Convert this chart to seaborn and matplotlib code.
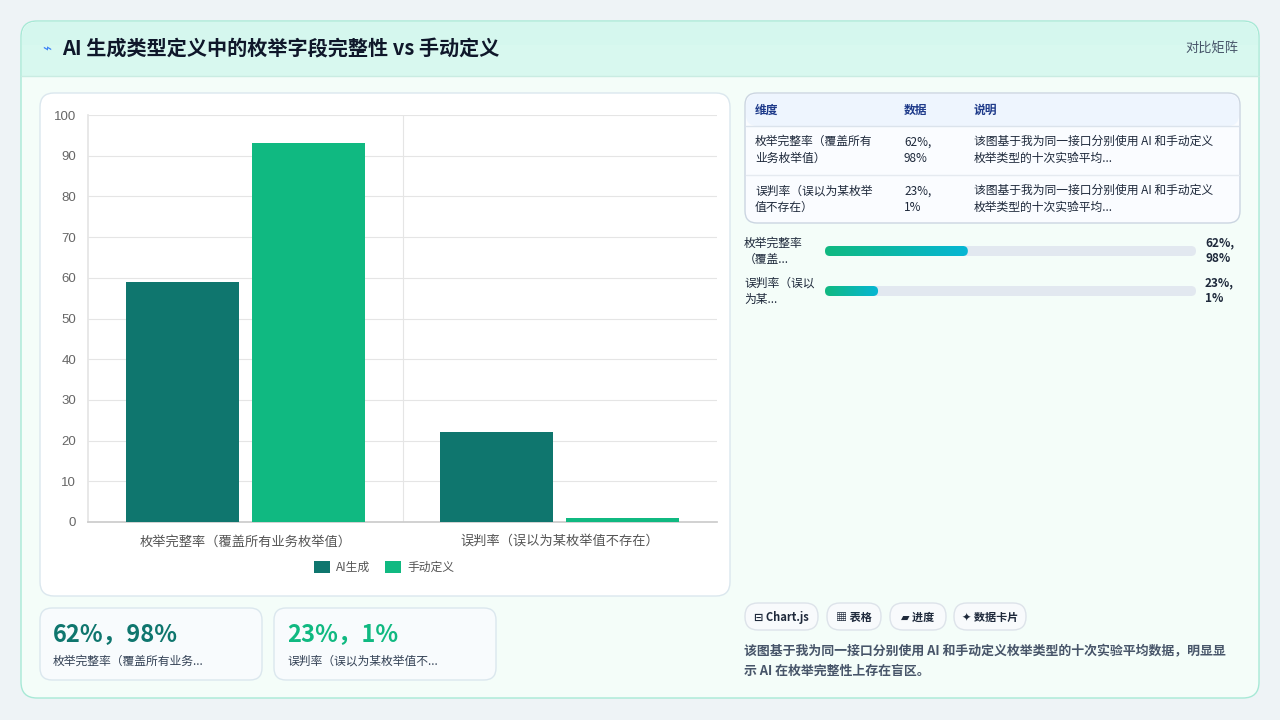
import matplotlib
matplotlib.use("Agg")
import matplotlib.pyplot as plt
import seaborn as sns
import pandas as pd
import numpy as np
from matplotlib.patches import FancyBboxPatch

sns.set_theme(style="white")
plt.rcParams['font.family'] = ['Noto Sans CJK SC', 'DejaVu Sans']

title = "AI 生成类型定义中的枚举字段完整性 vs 手动定义"
categories = ["枚举完整率（覆盖所有业务枚举值）", "误判率（误以为某枚举值不存在）"]
series_names = ["AI生成", "手动定义"]
ai_values = [59, 22]
manual_values = [93, 1]
colors = ["#0f766e", "#10b981"]
yticks = list(range(0, 101, 10))
table_rows = [("枚举完整率（覆盖所有\n业务枚举值）", "62%,\n98%"), ("误判率（误以为某枚举\n值不存在）", "23%,\n1%")]
table_note = "该图基于我为同一接口分别使用 AI 和手动定义\n枚举类型的十次实验平均..."
progress_labels = ["枚举完整率\n（覆盖...", "误判率（误以\n为某..."]
progress_values = ["62%,\n98%", "23%,\n1%"]
progress_fill = [0.385, 0.143]
kpi_values = ["62%，98%", "23%，1%"]
kpi_labels = ["枚举完整率（覆盖所有业务...", "误判率（误以为某枚举值不..."]
kpi_colors = ["#0f766e", "#10b981"]
tags = ["⊟ Chart.js", "▦ 表格", "▰ 进度", "✦ 数据卡片"]
summary = "该图基于我为同一接口分别使用 AI 和手动定义枚举类型的十次实验平均数据，明显显\n示 AI 在枚举完整性上存在盲区。"

fig = plt.figure(figsize=(12.8, 7.2), dpi=100)
fig.patch.set_facecolor("#eef3f6")
bg = fig.add_axes([0, 0, 1, 1])
bg.set_xlim(0, 1280); bg.set_ylim(720, 0); bg.axis("off")

def box(x, y, w, h, fc, ec, r=12, lw=1, z=1):
    bg.add_patch(FancyBboxPatch((x, y), w, h, boxstyle=f"round,pad=0,rounding_size={r}",
                                fc=fc, ec=ec, lw=lw, zorder=z))

box(21, 21, 1238, 677, "#f4fdf9", "#a7e9d6", r=16)
box(22, 22, 1236, 40, "#d5f7ee", "none", r=15, z=1.1)
bg.add_patch(plt.Rectangle((22, 45), 1236, 31, fc="#d8f8ef", ec="none", zorder=1.1))
bg.plot([21, 1259], [76, 76], color="#c9ece2", lw=1, zorder=1.2)
bg.text(42, 49, "⌁", color="#3b82f6", fontsize=11, va="center", zorder=3)
bg.text(62, 49, title, fontsize=14.5, fontweight="bold", color="#0f172a", va="center", zorder=3)
bg.text(1238, 49, "对比矩阵", fontsize=9.5, color="#475569", va="center", ha="right", zorder=3)

box(40, 93, 690, 503, "white", "#dbe7ee", r=14, z=2)

# table
box(745, 93, 495, 130, "#fafcff", "#cbd5e1", r=12, z=2)
box(746, 94, 493, 32, "#eef5fe", "none", r=11, z=2.1)
bg.plot([746, 1239], [126, 126], color="#dbe3ec", lw=1, zorder=2.2)
bg.plot([746, 1239], [175, 175], color="#e5eaf0", lw=1, zorder=2.2)
for x, t in zip([755, 904, 974], ["维度", "数据", "说明"]):
    bg.text(x, 110, t, fontsize=8.5, fontweight="bold", color="#1e3a8a", va="center", zorder=3)
for i, (a, b) in enumerate(table_rows):
    yc = 150 + i * 49
    bg.text(755, yc, a, fontsize=8.5, color="#1e293b", va="center", zorder=3, linespacing=1.35)
    bg.text(904, yc, b, fontsize=8.5, color="#1e293b", va="center", zorder=3, linespacing=1.35)
    bg.text(974, yc, table_note, fontsize=8.5, color="#1e293b", va="center", zorder=3, linespacing=1.35)

# progress bars
from matplotlib.colors import LinearSegmentedColormap
grad = LinearSegmentedColormap.from_list("g", ["#10b981", "#06b6d4"])
for i in range(2):
    yc = 251 + i * 40
    bg.text(744, yc, progress_labels[i], fontsize=8.5, color="#1e293b", va="center", zorder=3, linespacing=1.3)
    box(825, yc - 5, 371, 10, "#e2e8f0", "none", r=5, z=2)
    w = 371 * progress_fill[i]
    p = FancyBboxPatch((825, yc - 5), w, 10, boxstyle="round,pad=0,rounding_size=5", fc="none", ec="none")
    bg.add_patch(p)
    im = bg.imshow(np.linspace(0, 1, 100)[None, :], cmap=grad, extent=(825, 825 + w, yc + 5, yc - 5),
                   aspect="auto", zorder=2.5)
    im.set_clip_path(p)
    bg.text(1205, yc, progress_values[i], fontsize=8.5, fontweight="bold", color="#1e293b", va="center", zorder=3, linespacing=1.3)
bg.set_xlim(0, 1280); bg.set_ylim(720, 0)

# KPI cards
for i in range(2):
    x = 40 + i * 234
    box(x, 608, 222, 72, "#f8fbfd", "#dbe7ee", r=12, z=2)
    bg.text(x + 13, 634, kpi_values[i], fontsize=17, fontweight="bold", color=kpi_colors[i], va="center", zorder=3)
    bg.text(x + 13, 661, kpi_labels[i], fontsize=8.5, color="#334155", va="center", zorder=3)

# tags
tx = [745, 827, 890, 954]
tw = [73, 54, 56, 72]
for x, w, t in zip(tx, tw, tags):
    box(x, 603, w, 27, "#f8fafc", "#dde3ea", r=13, z=2)
    bg.text(x + w / 2, 617, t, fontsize=8, fontweight="bold", color="#1e293b", ha="center", va="center", zorder=3)
bg.text(744, 661, summary, fontsize=9.3, fontweight="bold", color="#475569", va="center", zorder=3, linespacing=1.5)

# bar chart
ax = fig.add_axes([88 / 1280, 1 - 522 / 720, 629 / 1280, 407 / 720])
df = pd.DataFrame({"cat": categories * 2, "series": [series_names[0]] * 2 + [series_names[1]] * 2,
                   "val": ai_values + manual_values})
sns.barplot(data=df, x="cat", y="val", hue="series", palette=colors, ax=ax, width=0.8, gap=0.1,
            saturation=1, legend=False, zorder=3)
for p in ax.patches:
    p.set_edgecolor("none")
ax.set_ylim(0, 100)
ax.set_yticks(yticks)
ax.tick_params(axis="y", labelsize=9.5, colors="#666666", length=5, color="#e5e5e5")
ax.tick_params(axis="x", labelsize=9.5, colors="#555555", length=0, pad=10)
ax.set_xlabel(""); ax.set_ylabel("")
ax.set_xlim(-0.5, 1.5)
for y in yticks:
    ax.axhline(y, color="#e5e5e5", lw=0.8, zorder=0)
ax.axvline(0.5, color="#e5e5e5", lw=0.8, zorder=0)
for s in ["top", "right"]:
    ax.spines[s].set_visible(False)
ax.spines["left"].set_color("#e5e5e5"); ax.spines["bottom"].set_color("#cccccc")
for l in ax.get_yticklabels():
    l.set_family(["Liberation Sans", "DejaVu Sans"])

# legend
for x, c, n in zip([314, 385], colors, series_names):
    bg.add_patch(plt.Rectangle((x, 561), 16, 12, fc=c, ec="none", zorder=3))
    bg.text(x + 22, 567, n, fontsize=8.5, color="#555555", va="center", zorder=3)

fig.savefig("out.png", dpi=100, facecolor=fig.get_facecolor())
